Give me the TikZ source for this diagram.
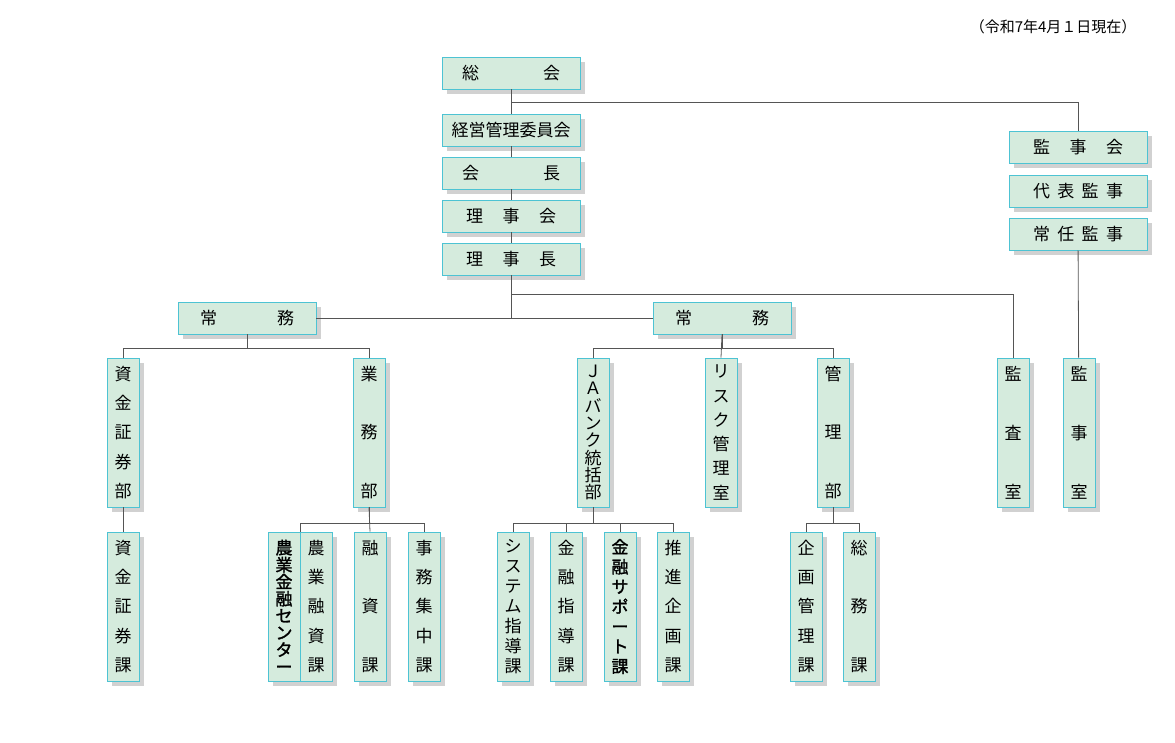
\documentclass[tikz,border=0pt]{standalone}
\usepackage{fontspec}
\setmainfont{Noto Sans CJK JP}
\newfontfamily\jpb[FakeBold=1.6]{Noto Sans CJK JP}
\usetikzlibrary{shadows}
\definecolor{bfill}{HTML}{D5EBDD}
\definecolor{bline}{HTML}{4DC3D3}
\definecolor{lcol}{HTML}{555555}
\tikzset{
 box/.style={draw=bline, fill=bfill, line width=0.9pt, inner sep=0pt, font=\fontsize{17}{17}\selectfont,
   drop shadow={shadow xshift=5pt, shadow yshift=-5pt, fill=black!18, opacity=1}},
 ln/.style={draw=lcol, line width=0.8pt}
}
\newcommand\sep{\par\vfill}
\newcommand\bx[6]{\node[box, minimum width={(#4-#2)*1pt}, minimum height={(#5-#3)*1pt}] (#1) at ({(#2+#4)/2},{(#3+#5)/2}) {#6};}
\newcommand\hz[2]{\makebox[#1pt]{#2}}
\newcommand\vt[2]{\begin{minipage}[c][#1pt]{24pt}\centering\lineskip=0pt #2\end{minipage}}
\begin{document}
\begin{tikzpicture}[x=1pt,y=-1pt]
\useasboundingbox (0,0) rectangle (1175,743);
\node[font=\fontsize{15}{15}\selectfont, anchor=east] (date) at (1140,27) {（令和7年4月１日現在）};
% top column
\bx{sokai}{442}{57}{580}{89}{\hz{98}{総\hfill 会}}
\bx{keiei}{442}{114}{580}{146}{経営管理委員会}
\bx{kaicho}{442}{157}{580}{189}{\hz{98}{会\hfill 長}}
\bx{rijikai}{442}{200}{580}{232}{\hz{90}{理\hfill 事\hfill 会}}
\bx{rijicho}{442}{243}{580}{275}{\hz{90}{理\hfill 事\hfill 長}}
\bx{kanjikai}{1009}{131}{1147}{163}{\hz{90}{監\hfill 事\hfill 会}}
\bx{daihyo}{1009}{175}{1147}{207}{\hz{90}{代\hfill 表\hfill 監\hfill 事}}
\bx{jonin}{1009}{218}{1147}{250}{\hz{90}{常\hfill 任\hfill 監\hfill 事}}
\bx{jomuL}{178}{302}{316}{334}{\hz{94}{常\hfill 務}}
\bx{jomuR}{653}{302}{791}{334}{\hz{94}{常\hfill 務}}
% department row
\bx{shikinbu}{107}{358}{139}{507}{\vt{133}{資\sep 金\sep 証\sep 券\sep 部}}
\bx{gyomubu}{353}{358}{385}{507}{\vt{133}{業\sep 務\sep 部}}
\bx{jabank}{577}{358}{609}{507}{\vt{135}{Ｊ\sep Ａ\sep バ\sep ン\sep ク\sep 統\sep 括\sep 部}}
\bx{risk}{705}{358}{737}{507}{\vt{135}{リ\sep ス\sep ク\sep 管\sep 理\sep 室}}
\bx{kanribu}{817}{358}{849}{507}{\vt{133}{管\sep 理\sep 部}}
\bx{kansa}{997}{358}{1029}{507}{\vt{133}{監\sep 査\sep 室}}
\bx{kanjishitsu}{1063}{358}{1095}{507}{\vt{133}{監\sep 事\sep 室}}
% section row
\bx{shikinka}{107}{532}{139}{681}{\vt{133}{資\sep 金\sep 証\sep 券\sep 課}}
\bx{center}{268}{532}{300}{681}{\vt{133}{\jpb 農\sep 業\sep 金\sep 融\sep セ\sep ン\sep タ\sep ー}}
\bx{noyu}{300}{532}{332}{681}{\vt{133}{農\sep 業\sep 融\sep 資\sep 課}}
\bx{yushi}{354}{532}{386}{681}{\vt{133}{融\sep 資\sep 課}}
\bx{jimu}{408}{532}{440}{681}{\vt{133}{事\sep 務\sep 集\sep 中\sep 課}}
\bx{system}{497}{532}{529}{681}{\vt{135}{シ\sep ス\sep テ\sep ム\sep 指\sep 導\sep 課}}
\bx{kinshi}{550}{532}{582}{681}{\vt{133}{金\sep 融\sep 指\sep 導\sep 課}}
\bx{support}{604}{532}{636}{681}{\vt{135}{\jpb 金\sep 融\sep サ\sep ポ\sep ー\sep ト\sep 課}}
\bx{suishin}{657}{532}{689}{681}{\vt{133}{推\sep 進\sep 企\sep 画\sep 課}}
\bx{kikaku}{790}{532}{822}{681}{\vt{133}{企\sep 画\sep 管\sep 理\sep 課}}
\bx{somu}{843}{532}{875}{681}{\vt{133}{総\sep 務\sep 課}}
% connectors
\draw[ln] (sokai) -- (keiei) -- (kaicho) -- (rijikai) -- (rijicho);
\draw[ln] (sokai.south) ++(0,13) coordinate (b1) -| (kanjikai.north);
\draw[ln] (jonin) -- (kanjishitsu);
\draw[ln] (rijicho.south) ++(0,19) coordinate (b2) -| (kansa.north);
\draw[ln] (rijicho.south) -- (511,318) coordinate (b3);
\draw[ln] (jomuL.east) -- (jomuR.west);
\draw[ln] (jomuL.south) -- ++(0,14) coordinate (c1);
\draw[ln] (c1) -| (shikinbu.north);
\draw[ln] (c1) -| (gyomubu.north);
\draw[ln] (shikinbu) -- (shikinka);
\draw[ln] (jomuR.south) -- ++(0,14) coordinate (c2);
\draw[ln] (c2) -| (jabank.north);
\draw[ln] (c2) -| (kanribu.north);
\draw[ln] (jomuR.south) -- (risk.north);
\draw[ln] (gyomubu.south) -- ++(0,16) coordinate (d1);
\draw[ln] (d1) -| (center.north east);
\draw[ln] (d1) -| (jimu.north);
\draw[ln] (gyomubu.south) -- (yushi.north);
\draw[ln] (jabank.south) -- ++(0,16) coordinate (d2);
\draw[ln] (d2) -| (system.north);
\draw[ln] (d2) -| (suishin.north);
\draw[ln] (d2) -| (kinshi.north);
\draw[ln] (d2) -| (support.north);
\draw[ln] (kanribu.south) -- ++(0,16) coordinate (d3);
\draw[ln] (d3) -| (kikaku.north);
\draw[ln] (d3) -| (somu.north);
\end{tikzpicture}
\end{document}
